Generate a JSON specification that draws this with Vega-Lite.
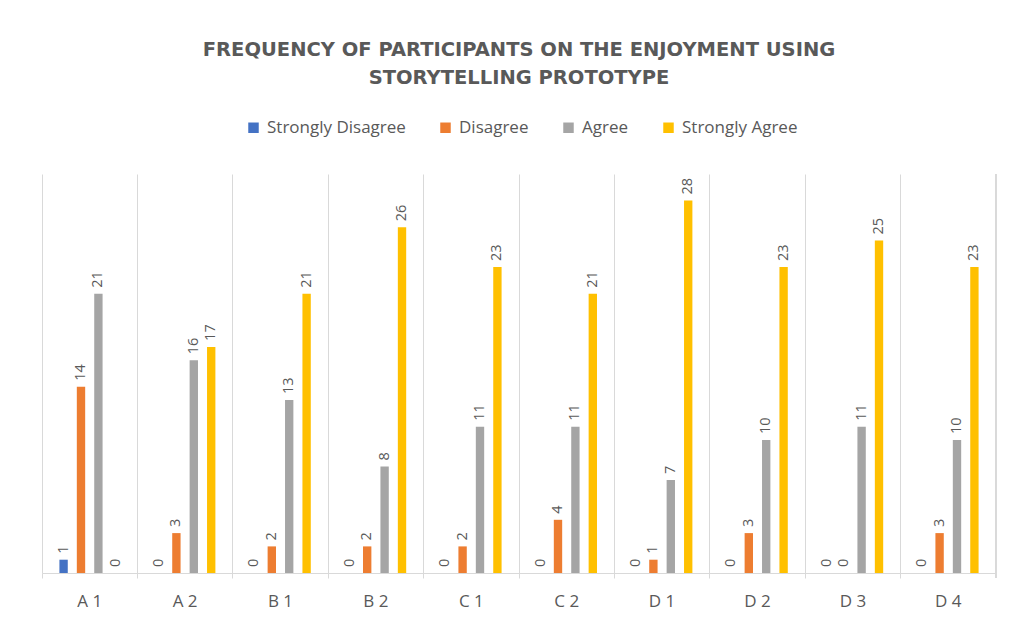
{
  "$schema": "https://vega.github.io/schema/vega-lite/v6.json",
  "autosize": "none",
  "width": 954,
  "height": 399,
  "padding": {"left": 42, "top": 174, "right": 22, "bottom": 55},
  "background": "white",
  "title": {
    "text": ["FREQUENCY OF PARTICIPANTS ON THE ENJOYMENT USING", "STORYTELLING PROTOTYPE"],
    "anchor": "middle",
    "font": "DejaVu Sans",
    "fontSize": 19.5,
    "fontWeight": "bold",
    "color": "#595959",
    "lineHeight": 28,
    "offset": 31
  },
  "data": {
    "values": [
      {"item": "A 1", "response": "Strongly Disagree", "count": 1},
      {"item": "A 1", "response": "Disagree", "count": 14},
      {"item": "A 1", "response": "Agree", "count": 21},
      {"item": "A 1", "response": "Strongly Agree", "count": 0},
      {"item": "A 2", "response": "Strongly Disagree", "count": 0},
      {"item": "A 2", "response": "Disagree", "count": 3},
      {"item": "A 2", "response": "Agree", "count": 16},
      {"item": "A 2", "response": "Strongly Agree", "count": 17},
      {"item": "B 1", "response": "Strongly Disagree", "count": 0},
      {"item": "B 1", "response": "Disagree", "count": 2},
      {"item": "B 1", "response": "Agree", "count": 13},
      {"item": "B 1", "response": "Strongly Agree", "count": 21},
      {"item": "B 2", "response": "Strongly Disagree", "count": 0},
      {"item": "B 2", "response": "Disagree", "count": 2},
      {"item": "B 2", "response": "Agree", "count": 8},
      {"item": "B 2", "response": "Strongly Agree", "count": 26},
      {"item": "C 1", "response": "Strongly Disagree", "count": 0},
      {"item": "C 1", "response": "Disagree", "count": 2},
      {"item": "C 1", "response": "Agree", "count": 11},
      {"item": "C 1", "response": "Strongly Agree", "count": 23},
      {"item": "C 2", "response": "Strongly Disagree", "count": 0},
      {"item": "C 2", "response": "Disagree", "count": 4},
      {"item": "C 2", "response": "Agree", "count": 11},
      {"item": "C 2", "response": "Strongly Agree", "count": 21},
      {"item": "D 1", "response": "Strongly Disagree", "count": 0},
      {"item": "D 1", "response": "Disagree", "count": 1},
      {"item": "D 1", "response": "Agree", "count": 7},
      {"item": "D 1", "response": "Strongly Agree", "count": 28},
      {"item": "D 2", "response": "Strongly Disagree", "count": 0},
      {"item": "D 2", "response": "Disagree", "count": 3},
      {"item": "D 2", "response": "Agree", "count": 10},
      {"item": "D 2", "response": "Strongly Agree", "count": 23},
      {"item": "D 3", "response": "Strongly Disagree", "count": 0},
      {"item": "D 3", "response": "Disagree", "count": 0},
      {"item": "D 3", "response": "Agree", "count": 11},
      {"item": "D 3", "response": "Strongly Agree", "count": 25},
      {"item": "D 4", "response": "Strongly Disagree", "count": 0},
      {"item": "D 4", "response": "Disagree", "count": 3},
      {"item": "D 4", "response": "Agree", "count": 10},
      {"item": "D 4", "response": "Strongly Agree", "count": 23}
    ]
  },
  "encoding": {
    "x": {
      "field": "item",
      "type": "nominal",
      "sort": null,
      "scale": {"paddingInner": 0, "paddingOuter": 0},
      "axis": {
        "title": null,
        "labelAngle": 0,
        "labelFont": "Open Sans",
        "labelFontSize": 17,
        "labelColor": "#595959",
        "labelPadding": 15,
        "bandPosition": 0,
        "grid": true,
        "gridColor": "#D9D9D9",
        "gridWidth": 1,
        "ticks": true,
        "tickColor": "#D9D9D9",
        "tickSize": 5,
        "domain": true,
        "domainColor": "#D9D9D9",
        "domainWidth": 1
      }
    },
    "xOffset": {
      "field": "response",
      "type": "nominal",
      "sort": ["Strongly Disagree", "Disagree", "Agree", "Strongly Agree"],
      "scale": {"paddingInner": 0.52, "paddingOuter": 1.1}
    },
    "y": {
      "field": "count",
      "type": "quantitative",
      "scale": {"domain": [0, 30], "nice": false},
      "axis": null
    }
  },
  "layer": [
    {
      "mark": {"type": "bar"},
      "encoding": {
        "color": {
          "field": "response",
          "type": "nominal",
          "sort": ["Strongly Disagree", "Disagree", "Agree", "Strongly Agree"],
          "scale": {
            "domain": ["Strongly Disagree", "Disagree", "Agree", "Strongly Agree"],
            "range": ["#4472C4", "#ED7D31", "#A5A5A5", "#FFC000"]
          },
          "legend": {
            "title": null,
            "orient": "none",
            "direction": "horizontal",
            "legendX": 203,
            "legendY": -55,
            "symbolType": "square",
            "symbolSize": 110,
            "symbolStrokeWidth": 0,
            "labelFont": "Open Sans",
            "labelFontSize": 17,
            "labelColor": "#595959",
            "labelOffset": 5,
            "columnPadding": 31,
            "labelLimit": 300
          }
        }
      }
    },
    {
      "mark": {
        "type": "text",
        "angle": 270,
        "align": "left",
        "baseline": "middle",
        "dx": 6,
        "font": "Open Sans",
        "fontSize": 14.5,
        "color": "#595959"
      },
      "encoding": {
        "text": {"field": "count", "type": "quantitative"}
      }
    },
    {
      "mark": {"type": "rule", "color": "#D9D9D9", "strokeWidth": 1},
      "encoding": {
        "x": {"datum": "D 4", "type": "nominal", "bandPosition": 1},
        "xOffset": null,
        "y": {"value": 0},
        "y2": {"value": 404}
      }
    }
  ],
  "config": {
    "view": {"stroke": null}
  }
}
